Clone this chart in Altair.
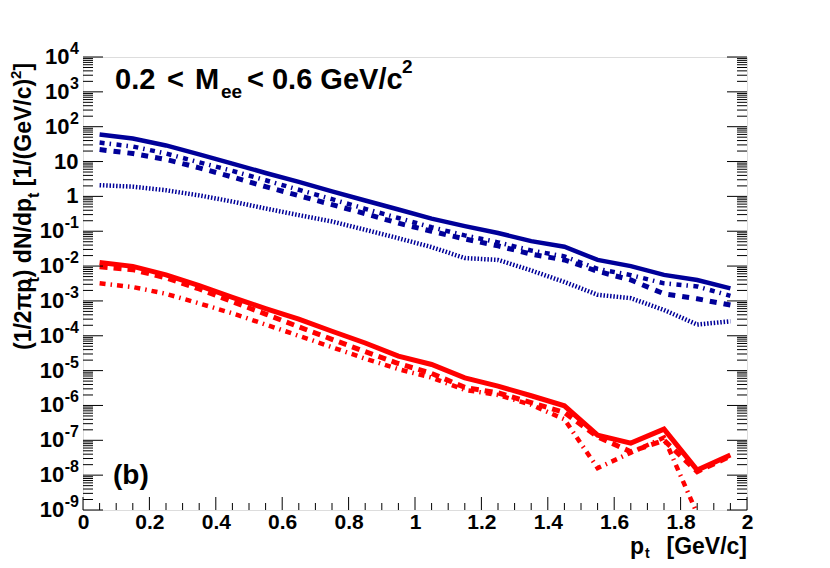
import altair as alt
import pandas as pd

# ---------------- data ----------------
pt = [0.05, 0.15, 0.25, 0.35, 0.45, 0.55, 0.65, 0.75, 0.85, 0.95,
      1.05, 1.15, 1.25, 1.35, 1.45, 1.55, 1.65, 1.75, 1.85, 1.95]

blue_solid = [60, 46, 29, 16, 8.7, 4.7, 2.6, 1.4, 0.76, 0.42,
              0.23, 0.14, 0.089, 0.052, 0.036, 0.015, 0.010, 0.0056, 0.0040, 0.0023]
blue_dashdot = [35, 27, 17, 9.5, 5.4, 2.9, 1.55, 0.83, 0.44, 0.24,
                0.13, 0.076, 0.048, 0.028, 0.019, 0.0083, 0.0055, 0.0032, 0.0026, 0.0014]
blue_dashed = [22, 17, 11.5, 6.6, 3.6, 1.9, 1.05, 0.58, 0.32, 0.17,
               0.10, 0.060, 0.038, 0.022, 0.015, 0.0071, 0.0040, 0.0016, 0.00115, 0.00076]
blue_dotted = [2.1, 1.9, 1.5, 1.07, 0.71, 0.45, 0.29, 0.19, 0.11, 0.063,
               0.035, 0.017, 0.015, 0.0075, 0.0035, 0.0015, 0.0012, 0.00055, 0.00021, 0.00026]
red_solid = [1.26e-2, 9.8e-3, 5.6e-3, 2.75e-3, 1.26e-3, 6.0e-4, 3.0e-4, 1.35e-4, 6.2e-5, 2.6e-5,
             1.5e-5, 6.2e-6, 3.6e-6, 1.9e-6, 9.8e-7, 1.4e-7, 8.3e-8, 2.1e-7, 1.4e-8, 3.8e-8]
red_dashed = [9.5e-3, 7.9e-3, 4.6e-3, 2.2e-3, 9.5e-4, 4.2e-4, 1.8e-4, 7.9e-5, 3.5e-5, 1.6e-5,
              8.3e-6, 3.3e-6, 2.3e-6, 1.2e-6, 6.3e-7, 1.26e-7, 4.7e-8, 1.0e-7, 1.26e-8, 3.5e-8]
red_dashdot = [3.2e-3, 2.5e-3, 1.6e-3, 8.5e-4, 4.4e-4, 2.1e-4, 1.0e-4, 4.7e-5, 2.2e-5, 1.1e-5,
               6.3e-6, 2.8e-6, 2.0e-6, 1.05e-6, 4.0e-7, 1.6e-8, 4.4e-8, 1.2e-7, 7.8e-10, 5e-10]

x_major = [0, 0.2, 0.4, 0.6, 0.8, 1, 1.2, 1.4, 1.6, 1.8, 2]
y_exponents = [-9, -8, -7, -6, -5, -4, -3, -2, -1, 0, 1, 2, 3, 4]

# ---------------- layout / style ----------------
FONT = "Liberation Sans"
W, H = 664, 453          # plot area
OX, OY = 83, 57          # absolute page position of plot origin
BLUE = "#000099"
RED = "#ff0000"

xs = alt.Scale(domain=[0, 2], nice=False, zero=False)
ys = alt.Scale(type="log", domain=[1e-9, 1e4], nice=False)

X_AX = alt.Axis(values=x_major, format="~g", domain=False, ticks=False, tickSize=0,
                grid=False, labelFont=FONT, labelFontSize=21, labelFontWeight="bold",
                labelColor="black", labelPadding=1, labelFlush=False, title="")

series = [
    ("blue_dotted", blue_dotted, BLUE, 4.5, [1.5, 1.8]),
    ("blue_dashed", blue_dashed, BLUE, 5.0, [7, 7]),
    ("blue_dashdot", blue_dashdot, BLUE, 4.5, [5, 5, 1.5, 5.5]),
    ("blue_solid", blue_solid, BLUE, 4.5, None),
    ("red_dashdot", red_dashdot, RED, 4.5, [6, 5, 1.5, 5]),
    ("red_dashed", red_dashed, RED, 5.0, [8, 6]),
    ("red_solid", red_solid, RED, 5.0, None),
]

layers = []
for name, vals, col, sw, dash in series:
    d = pd.DataFrame({"pt": pt, "v": vals})
    kw = dict(color=col, strokeWidth=sw, clip=True, strokeCap="butt")
    if dash is not None:
        kw["strokeDash"] = dash
    layers.append(
        alt.Chart(d).mark_line(**kw).encode(
            x=alt.X("pt:Q", scale=xs, axis=X_AX),
            y=alt.Y("v:Q", scale=ys, axis=None),
        )
    )

# ---------------- ticks (inside frame, ROOT style) ----------------
ymaj = [10.0 ** k for k in y_exponents]
ymin = [m * 10.0 ** k for k in y_exponents[:-1] for m in range(2, 10)]
ytick = pd.DataFrame({"v": ymaj + ymin, "kind": ["major"] * len(ymaj) + ["minor"] * len(ymin)})

def yrule(kind, x0, x1):
    return alt.Chart(ytick).transform_filter(f"datum.kind == '{kind}'").mark_rule(
        color="black", strokeWidth=1).encode(
        y=alt.Y("v:Q", scale=ys, axis=None), x=alt.value(x0), x2=alt.value(x1))

layers += [yrule("major", 0, 20), yrule("minor", 0, 10),
           yrule("major", W - 20, W), yrule("minor", W - 10, W)]

xminor = [round(i * 0.05, 2) for i in range(41)]
xminor = [t for t in xminor if round(t / 0.2, 6) != round(t / 0.2)]
xtick = pd.DataFrame({"t": x_major + xminor, "kind": ["major"] * len(x_major) + ["minor"] * len(xminor)})

def xrule(kind, length):
    return alt.Chart(xtick).transform_filter(f"datum.kind == '{kind}'").mark_rule(
        color="black", strokeWidth=1).encode(
        x=alt.X("t:Q", scale=xs, axis=X_AX), y=alt.value(H), y2=alt.value(H - length))

layers += [xrule("major", 13), xrule("minor", 7)]

# ---------------- y tick labels: 10^k ----------------
CW = {"0": .556, "1": .556, "2": .556, "3": .556, "4": .556, "5": .556, "6": .556,
      "7": .556, "8": .556, "9": .556, "-": .333, ".": .278, " ": .278, "<": .584,
      "M": .833, "e": .556, "G": .778, "V": .667, "/": .278, "c": .556, "(": .333,
      ")": .333, "[": .333, "]": .333, "p": .611, "t": .333, "d": .611, "N": .722,
      "π": .6}

def tw(s, size):
    return sum(CW.get(ch, 0.6) for ch in s) * size

LAB_R = -4       # right edge of y labels relative to plot
BASE_FS, EXP_FS = 22, 16
lab = pd.DataFrame({
    "v": [10.0 ** k for k in y_exponents],
    "base": ["1" if k == 0 else "10" for k in y_exponents],
    "exp": ["" if k in (0, 1) else str(k) for k in y_exponents],
})
lab["grp"] = ["plain" if e == "" else ("neg" if e.startswith("-") else "pos") for e in lab["exp"]]

for grp, ex in (("plain", ""), ("pos", "4"), ("neg", "-1")):
    layers.append(
        alt.Chart(lab).transform_filter(f"datum.grp == '{grp}'").mark_text(
            font=FONT, fontSize=BASE_FS, fontWeight="bold", align="right", baseline="middle",
            color="black").encode(
            y=alt.Y("v:Q", scale=ys, axis=None),
            x=alt.value(LAB_R - tw(ex, EXP_FS) - 0.5),
            text="base:N")
    )
layers.append(
    alt.Chart(lab).transform_filter("datum.exp != ''").mark_text(
        font=FONT, fontSize=EXP_FS, fontWeight="bold", align="right", baseline="middle",
        dy=-8, color="black").encode(
        y=alt.Y("v:Q", scale=ys, axis=None), x=alt.value(LAB_R), text="exp:N")
)

# ---------------- free texts ----------------
one = pd.DataFrame({"a": [0]})

def txt(s, ax, ay, size, align="left", angle=0):
    kw = dict(text=s, font=FONT, fontSize=size, fontWeight="bold", align=align,
              baseline="alphabetic", color="black")
    if angle:
        kw["angle"] = angle
    return alt.Chart(one).mark_text(**kw).encode(x=alt.value(ax - OX), y=alt.value(ay - OY))

# panel label text  0.2 < M_ee < 0.6 GeV/c^2
layers += [
    txt("0.2", 115, 89, 29),
    txt("<", 167, 89, 29),
    txt("M", 195, 89, 29),
    txt("ee", 221, 98, 19),
    txt("< 0.6 GeV/c", 247, 89, 29),
    txt("2", 402, 73, 19),
    txt("(b)", 113, 484, 28),
]

# x title  p_t [GeV/c]
layers += [
    txt("p", 630, 554, 23),
    txt("t", 645, 558, 14),
    txt("[GeV/c]", 747, 554, 23, align="right"),
]

# y title (rotated)  (1/2πp_t) dN/dp_t [1/(GeV/c)^2]
ytitle = [("(1/2πp", 23, 0), ("t", 16, 8), (") dN/dp", 23, 0), ("t", 16, 8),
          (None, 23, 0), ("[1/(GeV/c)", 23, 0), ("2", 15, -10), ("]", 23, 0)]
ypos = 350.0
BASEX = 31
for s, fs, shift in ytitle:
    if s is None:
        ypos -= 0.278 * fs
        continue
    layers.append(txt(s, BASEX + shift, ypos, fs, angle=270))
    ypos -= tw(s, fs)

chart = alt.layer(*layers).properties(
    width=W, height=H,
    autosize=alt.AutoSizeParams(type="none"),
    padding={"left": OX - 8, "top": OY - 8, "right": 60, "bottom": 552 - (OY - 8) - H},
).configure_view(stroke="black", strokeWidth=1).configure(background="white")

chart.save("out.html", embed_options={"renderer": "svg", "actions": False})
